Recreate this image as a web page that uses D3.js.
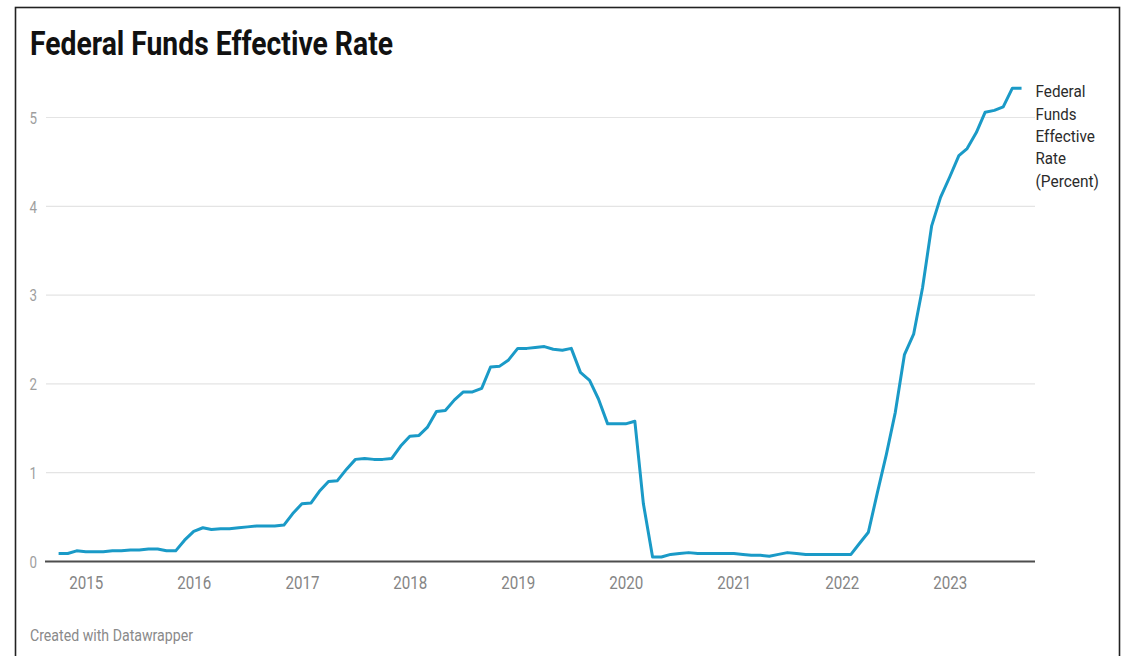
<!DOCTYPE html>
<html>
<head>
<meta charset="utf-8">
<script src="https://cdn.jsdelivr.net/npm/d3@7"></script>
<style>
  html, body { margin: 0; padding: 0; background: #fff; }
  svg { display: block; font-family: Roboto, "Noto Sans", sans-serif; }
</style>
</head>
<body>
<svg id="chart" width="1124" height="656"></svg>
<script>
// ---- data (monthly, Oct 2014 – Sep 2023) ----
const startMonth = "2014-10-01";
const endMonth = "2023-09-01";
const rateValues = [
  // 2014 Oct–Dec
  0.09, 0.09, 0.12,
  // 2015
  0.11, 0.11, 0.11, 0.12, 0.12, 0.13, 0.13, 0.14, 0.14, 0.12, 0.12, 0.24,
  // 2016
  0.34, 0.38, 0.36, 0.37, 0.37, 0.38, 0.39, 0.40, 0.40, 0.40, 0.41, 0.54,
  // 2017
  0.65, 0.66, 0.79, 0.90, 0.91, 1.04, 1.15, 1.16, 1.15, 1.15, 1.16, 1.30,
  // 2018
  1.41, 1.42, 1.51, 1.69, 1.70, 1.82, 1.91, 1.91, 1.95, 2.19, 2.20, 2.27,
  // 2019
  2.40, 2.40, 2.41, 2.42, 2.39, 2.38, 2.40, 2.13, 2.04, 1.83, 1.55, 1.55,
  // 2020
  1.55, 1.58, 0.65, 0.05, 0.05, 0.08, 0.09, 0.10, 0.09, 0.09, 0.09, 0.09,
  // 2021
  0.09, 0.08, 0.07, 0.07, 0.06, 0.08, 0.10, 0.09, 0.08, 0.08, 0.08, 0.08,
  // 2022
  0.08, 0.08, 0.20, 0.33, 0.77, 1.21, 1.68, 2.33, 2.56, 3.08, 3.78, 4.10,
  // 2023 Jan–Sep
  4.33, 4.57, 4.65, 4.83, 5.06, 5.08, 5.12, 5.33, 5.33
];
const yTicks = [0, 1, 2, 3, 4, 5];
const yearTicks = ["2015", "2016", "2017", "2018", "2019", "2020", "2021", "2022", "2023"];
const titleText = "Federal Funds Effective Rate";
const seriesLabel = ["Federal", "Funds", "Effective", "Rate", "(Percent)"];
const creditText = "Created with Datawrapper";

// ---- build ----
const parse = d3.utcParse("%Y-%m-%d");
const months = d3.utcMonth.range(parse(startMonth), d3.utcMonth.offset(parse(endMonth), 1));
const data = months.map((d, i) => ({ date: d, value: rateValues[i] }));

const svg = d3.select("#chart");

const x = d3.scaleUtc()
  .domain([Date.UTC(2015, 0, 1), Date.UTC(2023, 0, 1)])
  .range([85.8, 949.7]);
const y = d3.scaleLinear().domain([0, 5]).range([561.5, 117.5]);

// frame
svg.append("rect")
  .attr("x", 15.5).attr("y", 7.5)
  .attr("width", 1104).attr("height", 670)
  .attr("fill", "none").attr("stroke", "#222").attr("stroke-width", 1.6);

// title
svg.append("text")
  .attr("x", 30).attr("y", 55)
  .attr("font-size", 33).attr("font-weight", 700)
  .attr("fill", "#111")
  .attr("textLength", 363).attr("lengthAdjust", "spacingAndGlyphs")
  .text(titleText);

// gridlines
svg.selectAll("line.grid")
  .data(yTicks.filter(t => t > 0))
  .join("line")
  .attr("class", "grid")
  .attr("x1", 46).attr("x2", 1035)
  .attr("y1", d => y(d)).attr("y2", d => y(d))
  .attr("stroke", "#e4e4e4").attr("stroke-width", 1.2);

// y tick labels
const yAxis = d3.axisLeft(y).tickValues(yTicks).tickFormat(d3.format("d")).tickSize(0).tickPadding(0);
const yG = svg.append("g").attr("transform", "translate(37,0)").call(yAxis);
yG.select(".domain").remove();
yG.selectAll("text")
  .attr("font-size", 16)
  .attr("font-family", "Roboto, sans-serif")
  .attr("fill", "#9e9e9e")
  .attr("dy", "0.36em")
  .attr("textLength", 7.5).attr("lengthAdjust", "spacingAndGlyphs");

// baseline
svg.append("line")
  .attr("x1", 45).attr("x2", 1035)
  .attr("y1", y(0)).attr("y2", y(0))
  .attr("stroke", "#4d4d4d").attr("stroke-width", 2);

// x labels
const xAxis = d3.axisBottom(x)
  .tickValues(yearTicks.map(s => Date.UTC(+s, 0, 1)))
  .tickFormat(d => d3.utcFormat("%Y")(d))
  .tickSize(0).tickPadding(0);
const xG = svg.append("g").attr("transform", "translate(0,588.5)").call(xAxis);
xG.select(".domain").remove();
xG.selectAll("text")
  .attr("dy", 0)
  .attr("font-size", 18)
  .attr("font-family", "Roboto, sans-serif")
  .attr("fill", "#858585")
  .attr("textLength", 34).attr("lengthAdjust", "spacingAndGlyphs");

// line
const line = d3.line().x(d => x(d.date)).y(d => y(d.value)).curve(d3.curveLinear);
svg.append("path")
  .datum(data)
  .attr("d", line)
  .attr("fill", "none")
  .attr("stroke", "#1a9ac7")
  .attr("stroke-width", 3)
  .attr("stroke-linejoin", "round");

// series label
const labelWidths = [50, 41, 59.5, 30.5, 63.5];
svg.append("g").selectAll("text")
  .data(seriesLabel)
  .join("text")
  .attr("x", 1035.5)
  .attr("y", (d, i) => 97.3 + i * 22.35)
  .attr("font-size", 17)
  .attr("fill", "#2b2b2b")
  .attr("textLength", (d, i) => labelWidths[i])
  .attr("lengthAdjust", "spacingAndGlyphs")
  .text(d => d);

// credit
svg.append("text")
  .attr("x", 30).attr("y", 640.5)
  .attr("font-size", 16)
  .attr("fill", "#8a8a8a")
  .attr("textLength", 163).attr("lengthAdjust", "spacingAndGlyphs")
  .text(creditText);
</script>
</body>
</html>
